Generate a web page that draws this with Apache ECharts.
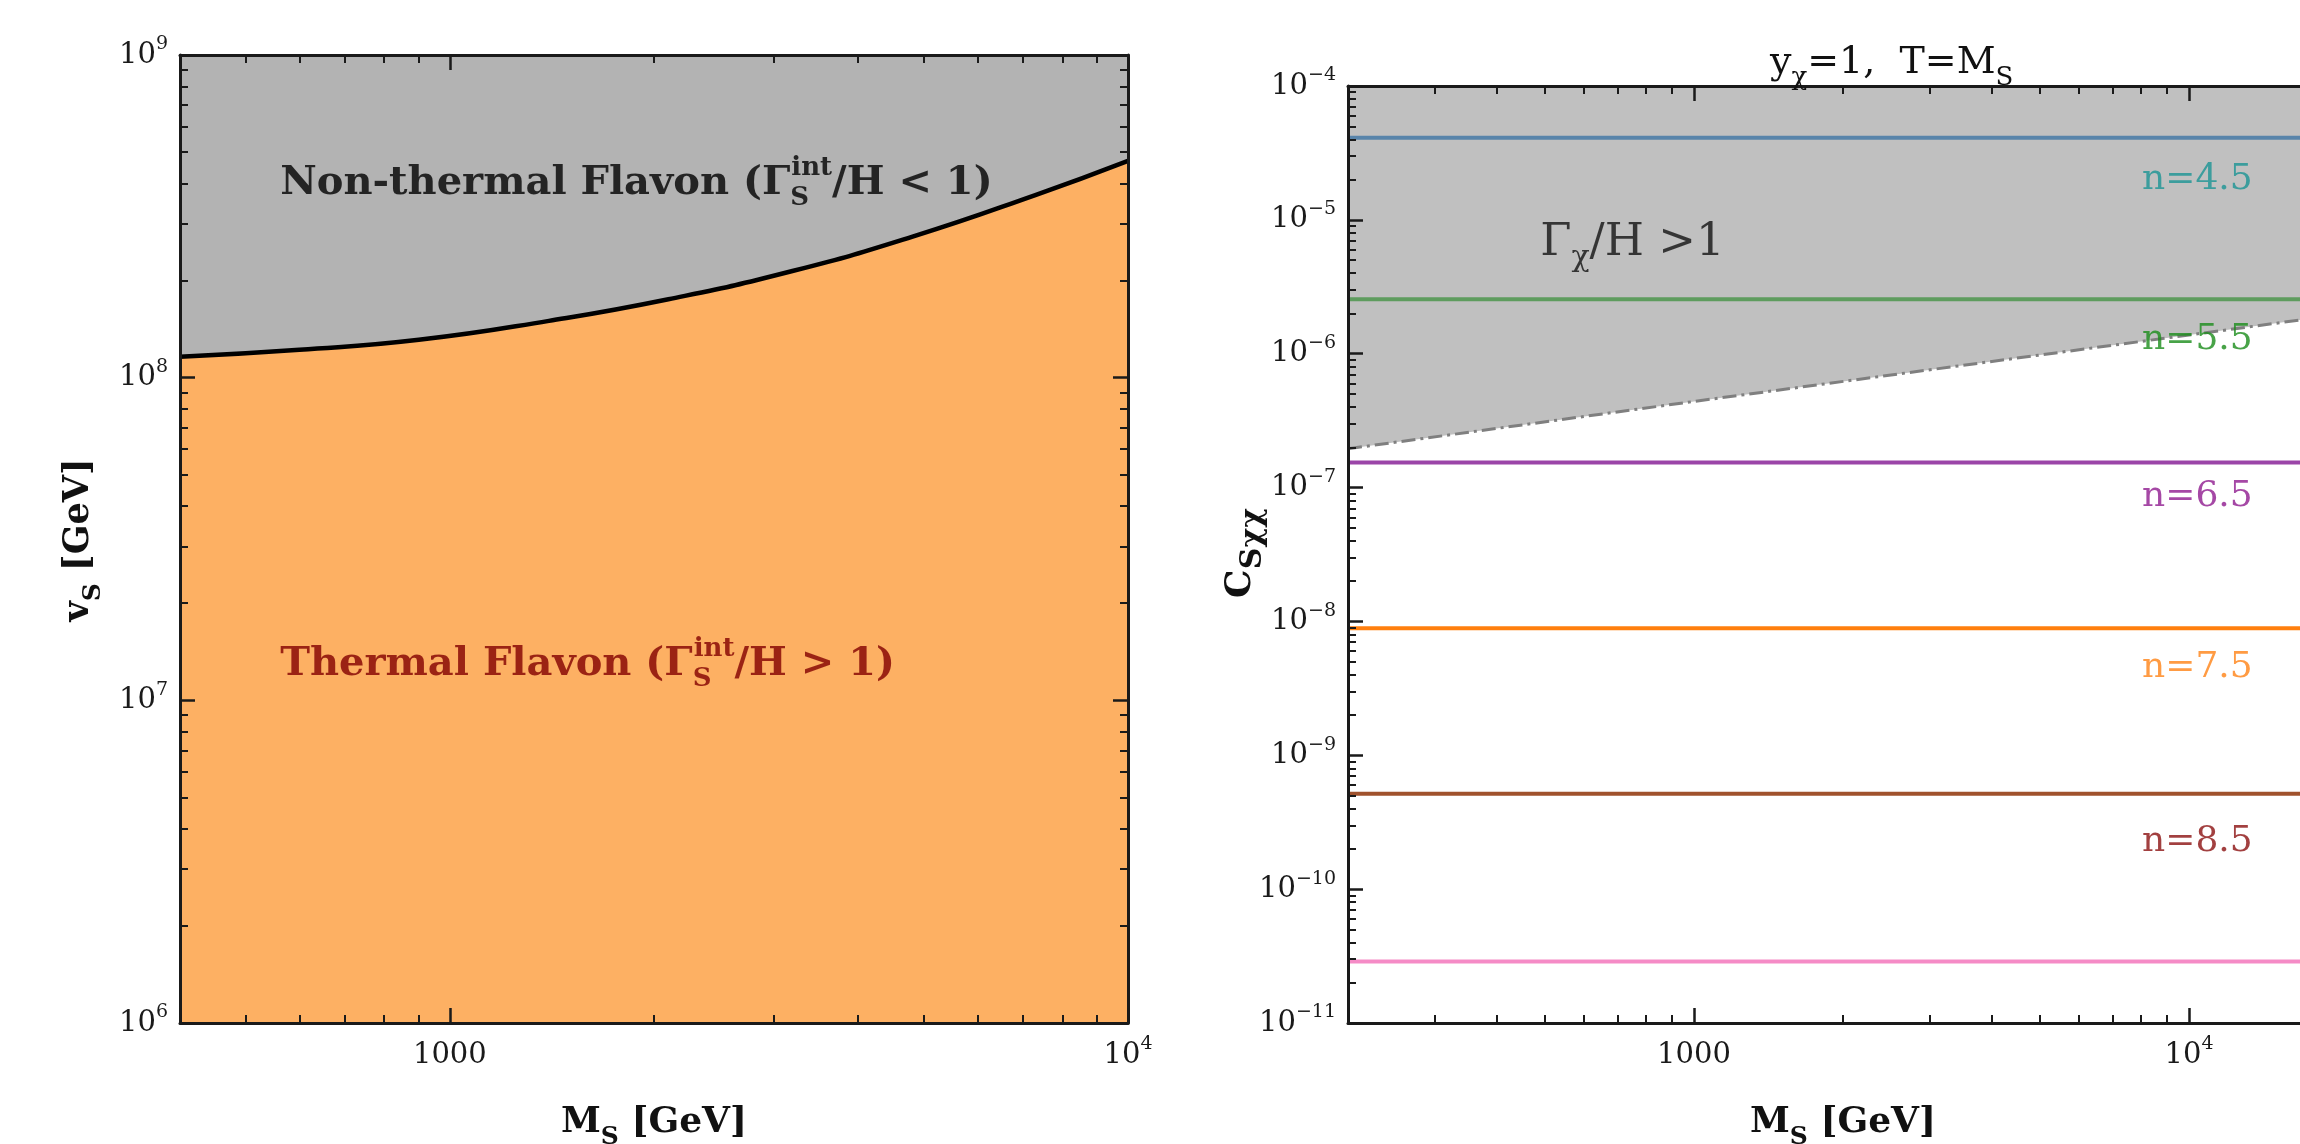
<!DOCTYPE html>
<html>
<head>
<meta charset="utf-8">
<script src="https://cdn.jsdelivr.net/npm/echarts@6/dist/echarts.min.js"></script>
<style>html,body{margin:0;padding:0;background:#fff}#c{width:2300px;height:1144px}</style>
</head>
<body>
<div id="c"></div>
<script>
// ---------- data ----------
// Left panel: boundary curve v_S(M_S)
const leftM = [400, 600, 900, 1400, 2100, 3200, 4800, 7300, 10000];
const leftV = [1.16e8, 1.22e8, 1.31e8, 1.5e8, 1.75e8, 2.14e8, 2.73e8, 3.68e8, 4.7e8];
// Right panel: Gamma_chi/H = 1 boundary (dash-dot)
const dashM = [200, 1000, 10000, 20000];
const dashC = [1.95e-7, 4.4e-7, 1.38e-6, 1.95e-6];
// Right panel: horizontal constant lines
const hLineValues = [4.1e-5, 2.55e-6, 1.54e-7, 8.9e-9, 5.15e-10, 2.88e-11];
const hLineColors = ['#5884aa', '#5e9c5e', '#9b45a8', '#ff7f0e', '#a0522d', '#f58bc6'];
// Right panel: n labels
const nTexts = ['n=4.5', 'n=5.5', 'n=6.5', 'n=7.5', 'n=8.5'];
const nPosM = [10400, 10400, 10400, 10400, 10400];
const nPosC = [1.99e-5, 1.27e-6, 8.5e-8, 4.5e-9, 2.26e-10];
const nColors = ['#1a9494', '#1a8c1a', '#8e1a8e', '#ff8214', '#8b1010'];
// Axis ranges and tick labels
const leftXRange = [400, 10000];
const leftYRange = [1e6, 1e9];
const rightXRange = [200, 20000];
const rightYRange = [1e-11, 1e-4];
const xTickLabels = {3: '{b|1000}', 4: '{b|10}{s|4}'};

// ---------- styling ----------
const F = "'DejaVu Serif', serif";
const AX = '#1a1a1a';
const tickRich = {
  b: {fontFamily: F, fontSize: 29, lineHeight: 40, color: AX},
  s: {fontFamily: F, fontSize: 19, lineHeight: 19, verticalAlign: 'top', color: AX}
};
function expOf(v) {
  const l = Math.log10(v);
  const e = Math.round(l);
  return Math.abs(l - e) < 1e-6 ? e : null;
}
function xFmt(v) {
  const e = expOf(v);
  if (e === null) return '';
  return xTickLabels[e] !== undefined ? xTickLabels[e] : '';
}
function yFmt(v) {
  const e = expOf(v);
  if (e === null) return '';
  return '{b|10}{s|' + (e < 0 ? '\u2212' + (-e) : e) + '}';
}
function minorLogs(lo, hi) {
  const a = Math.log10(lo), b = Math.log10(hi), out = [];
  for (let e = Math.floor(a); e <= Math.ceil(b); e++) {
    for (let k = 2; k <= 9; k++) {
      const v = e + Math.log10(k);
      if (v > a + 1e-9 && v < b - 1e-9) out.push(v);
    }
  }
  return out;
}
function mainAxis(grid, range, pos, labels, fmt) {
  return {
    type: 'log', gridIndex: grid, min: range[0], max: range[1], position: pos, z: 5,
    axisLine: {show: true, onZero: false, lineStyle: {color: AX, width: 3}},
    axisTick: {show: true, inside: true, length: 15, lineStyle: {color: AX, width: 2.5}},
    axisLabel: {show: labels, formatter: fmt, margin: 12, rich: tickRich,
                showMinLabel: true, showMaxLabel: true, hideOverlap: false},
    splitLine: {show: false}, minorTick: {show: false}
  };
}
function minorAxis(grid, range, pos) {
  return {
    type: 'value', gridIndex: grid, min: Math.log10(range[0]), max: Math.log10(range[1]), position: pos, z: 5,
    axisLine: {show: false},
    axisTick: {show: true, inside: true, length: 8, customValues: minorLogs(range[0], range[1]),
               lineStyle: {color: AX, width: 2}},
    axisLabel: {show: false}, splitLine: {show: false}
  };
}

const leftCurve = leftM.map((m, i) => [m, leftV[i]]);
const dashData = dashM.map((m, i) => [m, dashC[i]]);

const series = [
  {type: 'line', xAxisIndex: 0, yAxisIndex: 0, data: leftCurve, smooth: true, showSymbol: false,
   lineStyle: {color: '#000', width: 4.5}, areaStyle: {color: '#fdb063', origin: 'start', opacity: 1}, z: 2},
  {type: 'line', xAxisIndex: 4, yAxisIndex: 4, data: dashData, showSymbol: false,
   lineStyle: {width: 0, opacity: 0}, areaStyle: {color: '#c0c0c0', origin: 'end', opacity: 1}, z: 1}
];
hLineValues.forEach((v, i) => {
  series.push({type: 'line', xAxisIndex: 4, yAxisIndex: 4, showSymbol: false,
    data: [[rightXRange[0], v], [rightXRange[1], v]],
    lineStyle: {color: hLineColors[i], width: 4}, z: 3});
});
series.push({type: 'line', xAxisIndex: 4, yAxisIndex: 4, data: dashData, showSymbol: false,
  lineStyle: {color: '#7f7f7f', width: 3, type: [14, 5, 3, 5]}, z: 4});
series.push({type: 'scatter', xAxisIndex: 4, yAxisIndex: 4, symbolSize: 0, silent: true, z: 6,
  data: nTexts.map((t, i) => ({value: [nPosM[i], nPosC[i]], name: t, label: {color: nColors[i]}})),
  label: {show: true, position: 'inside', formatter: '{b}', fontFamily: F, fontSize: 36}});
const boldRich = (col) => ({
  sub: {fontFamily: F, fontWeight: 'bold', fontSize: 26, lineHeight: 32, verticalAlign: 'bottom', width: 1, color: col},
  sup: {fontFamily: F, fontWeight: 'bold', fontSize: 26, lineHeight: 24, verticalAlign: 'top', color: col}
});
series.push({type: 'scatter', xAxisIndex: 0, yAxisIndex: 0, symbolSize: 0, silent: true, z: 6,
  data: [
    {value: [562, 4.0e8], name: 'Non-thermal Flavon (\u0393{sub|S}{sup|int}/H < 1)',
     label: {color: '#000', rich: boldRich('#000')}},
    {value: [562, 1.29e7], name: 'Thermal Flavon (\u0393{sub|S}{sup|int}/H > 1)',
     label: {color: '#820000', rich: boldRich('#820000')}}
  ],
  label: {show: true, position: 'right', distance: 0, formatter: '{b}', fontFamily: F,
          fontWeight: 'bold', fontSize: 40, lineHeight: 56}});
series.push({type: 'scatter', xAxisIndex: 4, yAxisIndex: 4, symbolSize: 0, silent: true, z: 6,
  data: [{value: [489, 6.7e-6], name: '\u0393{sub|\u03c7}/H >1'}],
  label: {show: true, position: 'right', distance: 0, formatter: '{b}', fontFamily: F,
          fontSize: 45, lineHeight: 60, color: '#111',
          rich: {sub: {fontFamily: F, fontSize: 30, lineHeight: 32, verticalAlign: 'bottom', color: '#111'}}}});

function gText(x, y, text, size, bold, rot, subSize, align) {
  return {type: 'text', x: x, y: y, rotation: rot || 0, z: 10,
    style: {text: text, fontFamily: F, fontSize: size, fontWeight: bold ? 'bold' : 'normal',
      lineHeight: Math.round(size * 1.5), fill: '#111', align: align || 'center', verticalAlign: 'middle',
      rich: {sub: {fontFamily: F, fontSize: subSize, fontWeight: bold ? 'bold' : 'normal',
                   lineHeight: Math.round(subSize * 1.2), verticalAlign: 'bottom', fill: '#111'}}}};
}

const option = {
  backgroundColor: '#fff',
  animation: false,
  grid: [
    {left: 180, top: 55, width: 948, height: 968, show: true, backgroundColor: '#b3b3b3', borderWidth: 0,
     containLabel: false, outerBoundsMode: 'none'},
    {left: 1348, top: 86, width: 990, height: 937, show: false, containLabel: false, outerBoundsMode: 'none'}
  ],
  xAxis: [
    mainAxis(0, leftXRange, 'bottom', true, xFmt),
    mainAxis(0, leftXRange, 'top', false, xFmt),
    minorAxis(0, leftXRange, 'bottom'),
    minorAxis(0, leftXRange, 'top'),
    mainAxis(1, rightXRange, 'bottom', true, xFmt),
    mainAxis(1, rightXRange, 'top', false, xFmt),
    minorAxis(1, rightXRange, 'bottom'),
    minorAxis(1, rightXRange, 'top')
  ],
  yAxis: [
    mainAxis(0, leftYRange, 'left', true, yFmt),
    mainAxis(0, leftYRange, 'right', false, yFmt),
    minorAxis(0, leftYRange, 'left'),
    minorAxis(0, leftYRange, 'right'),
    mainAxis(1, rightYRange, 'left', true, yFmt),
    minorAxis(1, rightYRange, 'left')
  ],
  series: series,
  graphic: [
    gText(1770, 63, 'y{sub|\u03c7}=1,  T=M{sub|S}', 38, false, 0, 26, 'left'),
    gText(654, 1123, 'M{sub|S} [GeV]', 36, true, 0, 25),
    gText(1843, 1123, 'M{sub|S} [GeV]', 36, true, 0, 25),
    gText(79, 540, 'v{sub|S} [GeV]', 35, true, Math.PI / 2, 25),
    gText(1241, 553, 'C{sub|S\u03c7\u03c7}', 36, true, Math.PI / 2, 30)
  ]
};
const chart = echarts.init(document.getElementById('c'), null, {renderer: 'canvas'});
chart.setOption(option);
</script>
</body>
</html>
